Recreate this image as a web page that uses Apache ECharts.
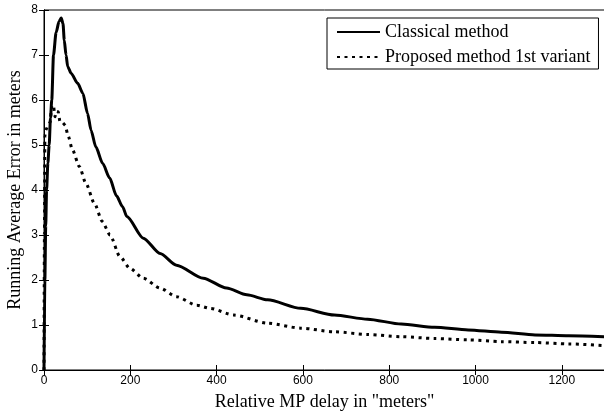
<!DOCTYPE html>
<html><head><meta charset="utf-8">
<script src="https://cdn.jsdelivr.net/npm/echarts@6/dist/echarts.min.js"></script>
<style>html,body{margin:0;padding:0;background:#fff}#c{width:604px;height:416px}</style>
</head><body><div id="c"></div>
<script>
const classicalX = [0,2,4,6,9,12,15,18,22,28,35,40,44,47,51,55,63,78,90,101,109,120,136,152,168,182,192,230,269,307,369,423,470,518,595,673,750,828,905,983,1060,1138,1216,1300];
const classicalY = [0,2.0,3.2,4.0,4.6,5.0,5.6,6.0,7.0,7.5,7.75,7.82,7.7,7.33,7.0,6.74,6.59,6.37,6.15,5.70,5.33,4.96,4.59,4.27,3.87,3.63,3.41,2.93,2.59,2.33,2.04,1.82,1.67,1.56,1.37,1.22,1.13,1.02,0.95,0.89,0.84,0.78,0.76,0.74];
const proposedX = [0,1,2,5,10,14,18,21.6,25.5,29,33,37,43,49,56,66,82,97,117,135,153,176,199,230,269,307,354,385,440,518,595,673,750,828,905,983,1060,1138,1216,1300];
const proposedY = [0,3.0,5.2,5.35,5.45,5.5,5.85,5.89,5.63,5.75,5.74,5.52,5.5,5.44,5.2,4.89,4.52,4.15,3.70,3.3,3.0,2.52,2.26,2.04,1.82,1.63,1.44,1.37,1.22,1.04,0.93,0.85,0.79,0.74,0.70,0.67,0.63,0.61,0.58,0.54];
const xTicks = [0,200,400,600,800,1000,1200];
const yTicks = [0,1,2,3,4,5,6,7,8];
const seriesNames = ['Classical method','Proposed method 1st variant'];

const pair = (xs, ys) => xs.map((x, i) => [x, ys[i]]);
const chart = echarts.init(document.getElementById('c'), null, {renderer:'canvas'});
const sans = 'Liberation Sans, Arial, sans-serif';
const serif = 'Liberation Serif, Times New Roman, serif';
const tick = {show:true,inside:false,length:-5,lineStyle:{color:'#000',width:1}};
chart.setOption({
  animation:false,
  backgroundColor:'#fff',
  grid:{left:44,right:-1,top:10,bottom:46,show:true,borderColor:'#000',borderWidth:1,outerBoundsMode:'none',containLabel:false},
  legend:{
    orient:'vertical', left:327, top:18,
    backgroundColor:'#fff', borderColor:'#000', borderWidth:1,
    padding:[5,8,3,9], itemGap:7, itemWidth:43, itemHeight:14,
    itemStyle:{opacity:0},
    textStyle:{fontFamily:serif,fontSize:18,color:'#000'},
    data:seriesNames
  },
  xAxis:[{
    type:'value',min:0,max:1300,interval:200,
    name:'Relative MP delay in "meters"',nameLocation:'middle',nameGap:23,nameMoveOverlap:false,
    nameTextStyle:{fontFamily:serif,fontSize:18,color:'#000'},
    axisLine:{show:true,lineStyle:{color:'#000'}},
    axisTick:tick,
    axisLabel:{fontFamily:sans,fontSize:12,color:'#000',margin:5,showMaxLabel:false,
      formatter:v=>xTicks.includes(v)?String(v):''},
    splitLine:{show:false}
  },{
    type:'value',position:'top',min:0,max:1300,interval:200,
    axisLine:{show:true,lineStyle:{color:'#000'}},
    axisTick:tick,
    axisLabel:{show:false},splitLine:{show:false}
  }],
  yAxis:[{
    type:'value',min:0,max:8,interval:1,
    name:'Running Average Error in meters',nameLocation:'middle',nameGap:20,nameMoveOverlap:false,
    nameTextStyle:{fontFamily:serif,fontSize:18,color:'#000'},
    axisLine:{show:true,lineStyle:{color:'#000'}},
    axisTick:tick,
    axisLabel:{fontFamily:sans,fontSize:12,color:'#000',margin:6,
      formatter:v=>yTicks.includes(v)?String(v):''},
    splitLine:{show:false}
  },{
    type:'value',position:'right',min:0,max:8,interval:1,
    axisLine:{show:true,lineStyle:{color:'#000'}},
    axisTick:tick,
    axisLabel:{show:false},splitLine:{show:false}
  }],
  series:[
    {name:seriesNames[0],type:'line',data:pair(classicalX,classicalY),showSymbol:false,symbol:'none',smooth:0.25,smoothMonotone:'x',
      lineStyle:{color:'#000',width:3},itemStyle:{color:'#000'}},
    {name:seriesNames[1],type:'line',data:pair(proposedX,proposedY),showSymbol:false,symbol:'none',smooth:0.25,smoothMonotone:'x',
      lineStyle:{color:'#000',width:3,type:[3,4.5]},itemStyle:{color:'#000'}}
  ]
});
</script></body></html>
